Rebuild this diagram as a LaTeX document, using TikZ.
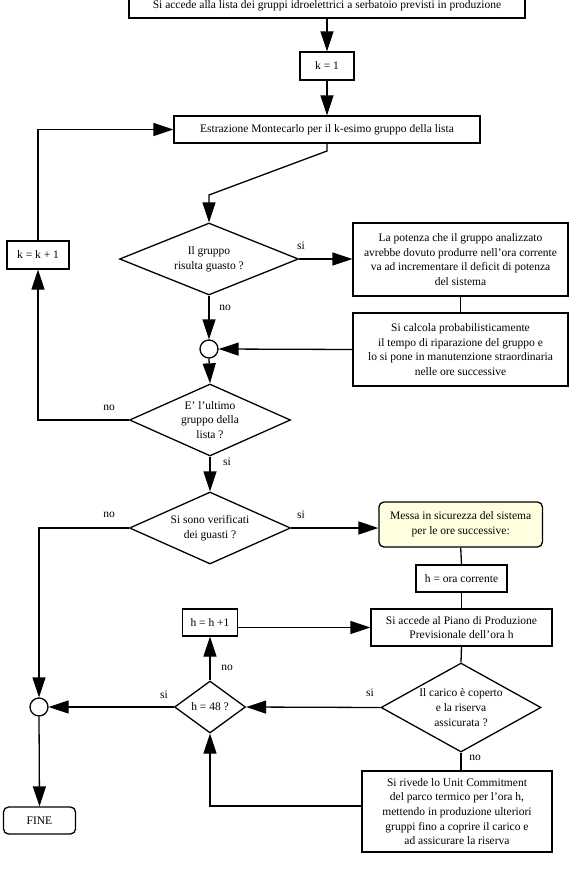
\documentclass[tikz,border=0pt]{standalone}
\usepackage{fontspec}
\setmainfont{Liberation Serif}
\usetikzlibrary{shapes.geometric,arrows.meta}

\newcommand{\txt}{\fontsize{11.5}{14.6}\selectfont}
\definecolor{notecol}{RGB}{255,255,224}

\tikzset{
  box/.style={draw, rectangle, line width=1.3pt, align=center, inner sep=0pt, font=\txt},
  endbox/.style={box, rounded corners=5pt},
  test/.style={draw, diamond, line width=1.3pt, align=center, inner sep=0pt, font=\txt},
  merge/.style={draw, circle, line width=1.3pt, minimum size=18pt, inner sep=0pt},
  lbl/.style={font=\txt, inner sep=0pt},
  flow/.style={line width=1.3pt, -{Triangle[length=20pt,width=13pt]}},
  link/.style={line width=1.3pt}
}

\begin{document}
\begin{tikzpicture}[x=1pt, y=-1pt]

    \useasboundingbox (0,0) rectangle (569,874);

    % Draw the boxes of the main column
    \node[box, minimum width=396pt, minimum height=24pt] (lista) at (327,6)
        {Si accede alla lista dei gruppi idroelettrici a serbatoio previsti in produzione};
    \node[box, minimum width=54pt, minimum height=28pt] (kuno) at (327,66) {k = 1};
    \node[box, minimum width=306pt, minimum height=27pt] (estr) at (327,129.5)
        {Estrazione Montecarlo per il k-esimo gruppo della lista};
    \node[box, minimum width=62pt, minimum height=28pt] (kinc) at (38,255) {k = k + 1};

    % Draw the tests
    \node[test, aspect=2.5, minimum width=179pt, minimum height=72pt] (guasto) at (209,259)
        {Il gruppo\\risulta guasto ?};
    \node[test, aspect=2.2, minimum width=161pt, minimum height=72pt] (ultimo) at (210,420)
        {E’ l’ultimo\\gruppo della\\lista ?};
    \node[test, aspect=2.2, minimum width=161pt, minimum height=72pt] (guasti) at (210,528)
        {Si sono verificati\\dei guasti ?};
    \node[test, aspect=1.8, minimum width=160pt, minimum height=89pt] (carico) at (461,707.5)
        {Il carico è coperto\\e la riserva\\assicurata ?};
    \node[test, aspect=1.4, minimum width=71pt, minimum height=52pt] (ora48) at (210,707)
        {h = 48 ?};

    % Draw the boxes on the right
    \node[box, minimum width=215pt, minimum height=73pt] (deficit) at (460.5,259.5)
        {La potenza che il gruppo analizzato\\avrebbe dovuto produrre nell’ora corrente\\va ad incrementare il deficit di potenza\\del sistema};
    \node[box, minimum width=215pt, minimum height=73pt] (ripara) at (460.5,349.5)
        {Si calcola probabilisticamente\\il tempo di riparazione del gruppo e\\lo si pone in manutenzione straordinaria\\nelle ore successive};
    \node[endbox, fill=notecol, minimum width=163.5pt, minimum height=45pt] (sicura) at (460.7,524.5)
        {Messa in sicurezza del sistema\\per le ore successive:};
    \node[box, minimum width=91pt, minimum height=27pt] (hora) at (461.5,578.5) {h = ora corrente};
    \node[box, minimum width=181pt, minimum height=37pt] (piano) at (461.5,627.5)
        {Si accede al Piano di Produzione\\Previsionale dell’ora h};
    \node[box, minimum width=190pt, minimum height=81pt] (rivede) at (457,811.5)
        {Si rivede lo Unit Commitment\\del parco termico per l’ora h,\\mettendo in produzione ulteriori\\gruppi fino a coprire il carico e\\ad assicurare la riserva};
    \node[box, minimum width=55pt, minimum height=27pt] (hinc) at (210,622.5) {h = h +1};

    % Draw the junctions and the end
    \node[merge] (uno) at (209,349) {};
    \node[merge] (due) at (39,707) {};
    \node[endbox, minimum width=72pt, minimum height=27pt] (fine) at (39.5,820.5) {FINE};

    % Bends of the diagonal line
    \coordinate (piega1) at (327,151);
    \coordinate (piega2) at (209,195);

    % Draw the connectors
    \draw[flow] (lista.south) -- (kuno.north);
    \draw[flow] (kuno.south) -- (estr.north);
    \draw[flow] (estr.south) -- (piega1) -- (piega2) -- (guasto.north);
    \draw[flow] (guasto.east) -- (guasto.east -| deficit.west);
    \draw[flow] (guasto.south) -- (uno.north);
    \draw[link] (deficit.south) -- (ripara.north);
    \draw[flow] (ripara.west) -- (uno.east);
    \draw[flow] (uno.south) -- (ultimo.north);
    \draw[flow] (ultimo.west) -| (kinc.south);
    \draw[flow] (kinc.north) |- (estr.west);
    \draw[flow] (ultimo.south) -- (guasti.north);
    \draw[flow] (guasti.east) -- (guasti.east -| sicura.west);
    \draw[link] (sicura.south) -- (hora.north);
    \draw[link] (hora.south) -- (piano.north);
    \draw[link] (piano.south) -- (carico.north);
    \draw[flow] (carico.west) -- (ora48.east);
    \draw[flow] (ora48.north) -- (hinc.south);
    \draw[flow] (hinc.east |- piano.west) -- (piano.west);
    \draw[link] (carico.south) -- (carico.south |- rivede.north);
    \draw[flow] ([yshift=5.5pt]rivede.west) -| (ora48.south);
    \draw[flow] (ora48.west) -- (due.east);
    \draw[flow] (guasti.west) -| (due.north);
    \draw[flow] (due.south) -- (fine.north);

    % Labels of the branches
    \node[lbl] (si1) at (301,246) {si};
    \node[lbl] (no1) at (225,308) {no};
    \node[lbl] (no2) at (109,408) {no};
    \node[lbl] (si2) at (227,462) {si};
    \node[lbl] (no3) at (109,515) {no};
    \node[lbl] (si3) at (301,515) {si};
    \node[lbl] (no4) at (227,668) {no};
    \node[lbl] (si4) at (370,693) {si};
    \node[lbl] (si5) at (164,695) {si};
    \node[lbl] (no5) at (475,758) {no};

\end{tikzpicture}
\end{document}
